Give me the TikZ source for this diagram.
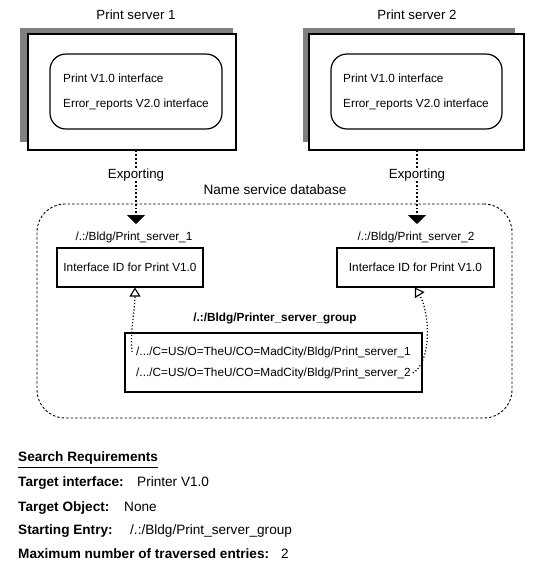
\documentclass[tikz,border=0pt]{standalone}
\usepackage{fontspec}
\setmainfont{Liberation Sans}
\usetikzlibrary{arrows.meta}
\begin{document}
\begin{tikzpicture}[x=1pt,y=-1pt,
  big/.style={font=\fontsize{13.3}{15}\selectfont, inner sep=0pt, text height=0.716em, text depth=0pt},
  small/.style={font=\fontsize{11.8}{14}\selectfont, inner sep=0pt, text height=0.716em, text depth=0pt},
  srtext/.style={font=\fontsize{13.6}{16}\selectfont, inner sep=0pt, anchor=west, text height=0.716em, text depth=0pt},
  srlabel/.style={srtext, font=\fontsize{13.6}{16}\selectfont\bfseries},
  shadowbox/.style={fill=black!50},
  serverbox/.style={draw, line width=1.2pt, fill=white, inner sep=0pt, minimum height=116pt},
  ifacebox/.style={draw, line width=1.2pt, rounded corners=16pt, inner sep=0pt, minimum height=75pt},
  idbox/.style={small, draw, line width=1.3pt, minimum height=39pt},
  groupbox/.style={draw, line width=2.6pt, inner sep=0pt, minimum width=297pt, minimum height=59pt},
  region/.style={draw, line width=0.9pt, dash pattern=on 2.5pt off 2pt, rounded corners=28pt, inner sep=0pt, minimum width=475pt, minimum height=214pt},
  export/.style={line width=1.8pt, dotted, -{Triangle[width=18pt,length=9pt]}},
  link/.style={line width=1.2pt, dotted, -{Triangle[open,width=11pt,length=9pt,line width=1.1pt]}},
]
\useasboundingbox (0,0) rectangle (544,574);

% ---- Print server 1
\fill[shadowbox] (20,28) rectangle (233,142);
\node[serverbox, minimum width=208pt] (s1) at (132,92) {};
\node[big] (t1) at (136,16) {Print server 1};
\node[ifacebox, minimum width=172pt] (i1) at (136,91.5) {};
\node[small, anchor=west] (p1a) at (63,79) {Print V1.0 interface};
\node[small, anchor=west] (p1b) at (63,104) {Error\_reports V2.0 interface};

% ---- Print server 2
\fill[shadowbox] (303,28) rectangle (515,142);
\node[serverbox, minimum width=215pt] (s2) at (416.5,92) {};
\node[big] (t2) at (417,16) {Print server 2};
\node[ifacebox, minimum width=171pt] (i2) at (416.5,91.5) {};
\node[small, anchor=west] (p2a) at (343,79) {Print V1.0 interface};
\node[small, anchor=west] (p2b) at (343,104) {Error\_reports V2.0 interface};

% ---- Name service database
\node[big, font=\fontsize{13.6}{16}\selectfont] (nsd) at (275,191) {Name service database};
\node[region] (db) at (274.5,311) {};

\node[small] (n1) at (134,237) {/.:/Bldg/Print\_server\_1};
\node[small] (n2) at (416,237) {/.:/Bldg/Print\_server\_2};
\node[idbox, minimum width=146pt] (id1) at (130,267.5) {Interface ID for Print V1.0};
\node[idbox, minimum width=157pt] (id2) at (415.5,267.5) {Interface ID for Print V1.0};

\coordinate (a1) at (136,224);
\coordinate (a2) at (417,224);
\draw[export] (s1.south -| a1) -- node[pos=0.33, big, fill=white, inner sep=3pt] (e1) {Exporting} (a1);
\draw[export] (s2.south -| a2) -- node[pos=0.33, big, fill=white, inner sep=3pt] (e2) {Exporting} (a2);

% ---- group entry
\node[small, font=\fontsize{11.8}{14}\selectfont\bfseries] (gl) at (275,318) {/.:/Bldg/Printer\_server\_group};
\node[groupbox] (gb) at (273.5,362.5) {};
\node[small, anchor=west] (l1) at (136,352) {/.../C=US/O=TheU/CO=MadCity/Bldg/Print\_server\_1};
\node[small, anchor=west] (l2) at (136,373) {/.../C=US/O=TheU/CO=MadCity/Bldg/Print\_server\_2};

\coordinate (tip1) at (135,287.5);
\coordinate (tip2) at (415,287.5);
\draw[link] ([xshift=-4pt]l1.west) .. controls (130,330) and (135,310) .. (tip1);
\draw[link] ([xshift=2pt]l2.east) .. controls (432,362) and (430,312) .. (tip2);

% ---- Search requirements
\node[srlabel] (sr) at (18,458) {Search Requirements};
\draw[line width=1.2pt] ([yshift=-6pt]sr.base west) -- ([yshift=-6pt]sr.base east);
\node[srlabel] (r1) at (18,483) {Target interface:};
\node[srtext] (v1) at (137,483) {Printer V1.0};
\node[srlabel] (r2) at (18,508) {Target Object:};
\node[srtext] (v2) at (124,508) {None};
\node[srlabel] (r3) at (18,531) {Starting Entry:};
\node[srtext] (v3) at (130,531) {/.:/Bldg/Print\_server\_group};
\node[srlabel] (r4) at (18,555) {Maximum number of traversed entries:};
\node[srtext] (v4) at (281,555) {2};
\end{tikzpicture}
\end{document}
